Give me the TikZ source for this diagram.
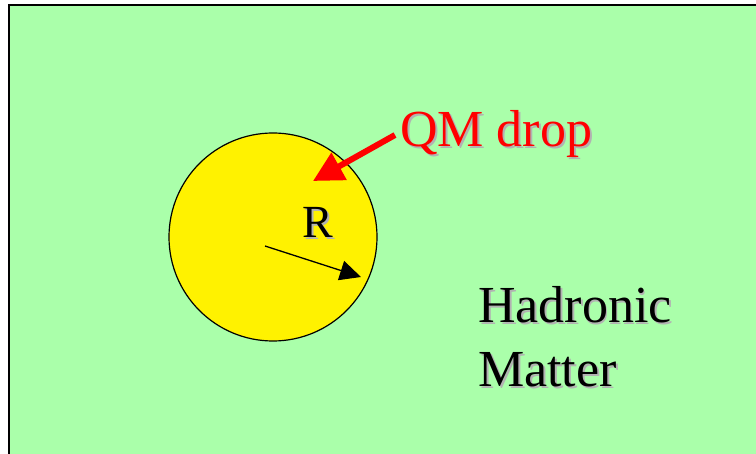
\documentclass[tikz,border=0pt]{standalone}
\usepackage{fontspec}
\setmainfont{Liberation Serif}
\usepackage{tikz}
\usetikzlibrary{arrows.meta, positioning}
\definecolor{hadgreen}{RGB}{170,255,170}
\newcommand{\shtext}[1]{\leavevmode\rlap{\kern1.8pt\raisebox{-1.8pt}{\color{black!30}#1}}#1}
\tikzstyle{bigtext} = [inner sep=0pt, anchor=base west, font=\fontsize{52}{64}\selectfont]
\tikzstyle{arrow} = [-{Triangle[length=21pt,width=20pt]}, line width=1.3pt]
\tikzstyle{bigarrow} = [-{Triangle[length=30pt,width=30pt]}, line width=6pt, red]

\begin{document}
\begin{tikzpicture}[x=1pt, y=-1pt]
    \useasboundingbox (0,0) rectangle (756,454);
    % Hadronic matter
    \draw [fill=hadgreen, line width=2pt] (9,5.3) rectangle (790,490);

    % QM drop
    \node (drop) [draw, circle, fill=yellow, line width=1.2pt, minimum size=208pt, inner sep=0pt] at (273,237) {};
    \coordinate (centre) at (265,246);
    \coordinate (rim) at (361,277);
    \coordinate (inside) at (313,181);
    \coordinate (tail) at (395,135);

    % Labels
    \node (qm) [bigtext, text=red] at (400,147) {\shtext{QM drop}};
    \node (rad) [bigtext, font=\fontsize{46}{50}\selectfont] at (302,238) {\shtext{R}};
    \node (had) [bigtext] at (478,323) {\shtext{Hadronic}};
    \node (mat) [bigtext] at (478,387) {\shtext{Matter}};

    % Arrows
    \draw [bigarrow] (tail) -- (inside);
    \draw [arrow] (centre) -- (rim);
\end{tikzpicture}
\end{document}
